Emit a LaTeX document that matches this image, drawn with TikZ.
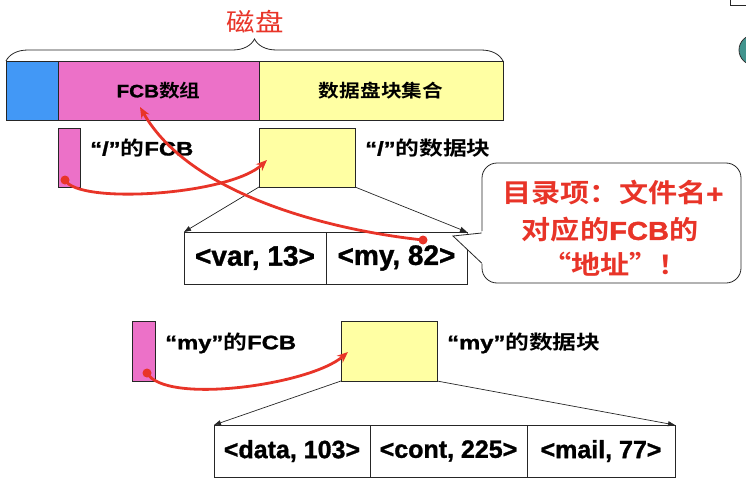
\documentclass[tikz,border=0pt]{standalone}
\usepackage{fontspec}
\setmainfont{Liberation Sans}[BoldFont={Liberation Sans Bold}, BoldFeatures={FakeBold=1.2}]
\newfontfamily\cjkfont{Noto Sans CJK SC}[BoldFont={Noto Sans CJK SC Bold}]
\usetikzlibrary{positioning,arrows.meta,decorations.pathreplacing}

\definecolor{diskblue}{RGB}{66,152,246}
\definecolor{fcbpink}{RGB}{236,113,200}
\definecolor{blkyellow}{RGB}{255,255,163}
\definecolor{ptrred}{RGB}{232,52,40}
\definecolor{logoteal}{RGB}{66,148,142}

\newcommand\zh[1]{{\cjkfont#1}}
\newcommand\wide[2]{\scalebox{#1}[1]{#2}}

\tikzset{
  box/.style={draw=black!85, line width=0.8pt, inner sep=0pt, outer sep=0pt, anchor=north west},
  cell/.style={box, minimum height=52pt},
  lbl/.style={inner sep=0pt, anchor=west, font=\fontsize{19.5}{22}\selectfont\bfseries},
  note/.style={inner sep=0pt, text=ptrred, font=\fontsize{26}{28}\selectfont\bfseries},
  ptr/.style={ptrred, line width=2.8pt, -{Stealth[length=11pt,width=9pt]}},
  spread/.style={black!85, line width=0.7pt, -{Triangle[length=7pt,width=5pt]}},
}

\begin{document}
\begin{tikzpicture}[x=1pt,y=-1pt]
\useasboundingbox (0,0) rectangle (746,484);
% disk layout
\node[box, fill=diskblue, minimum width=52pt, minimum height=59pt] (boot) at (6,61) {};
\node[box, fill=fcbpink, minimum width=201pt, minimum height=59pt, font=\fontsize{18}{20}\selectfont\bfseries] (fcbarr) at (58,61) {\wide{1.15}{FCB\zh{数组}}};
\node[box, fill=blkyellow, minimum width=244pt, minimum height=59pt, font=\fontsize{18}{20}\selectfont\bfseries] (blkset) at (259,61) {\wide{1.15}{\zh{数据盘块集合}}};
\draw[black!85, line width=0.8pt, decorate, decoration={brace, amplitude=22pt}] (boot.north west) -- (blkset.north east);
\node[text=ptrred, font=\fontsize{25}{28}\selectfont] (disk) at (255,22) {\wide{1.14}{\zh{磁盘}}};

% root directory
\node[box, fill=fcbpink, minimum width=22pt, minimum height=59pt] (rootfcb) at (58,128) {};
\node[lbl, right=10pt of rootfcb.north east, yshift=-20pt] (rootfcblbl) {\wide{1.22}{“/”\zh{的}FCB}};
\node[box, fill=blkyellow, minimum width=96pt, minimum height=59pt] (rootblk) at (259,128) {};
\node[lbl, right=10pt of rootblk.north east, yshift=-20pt] (rootblklbl) {\wide{1.22}{“/”\zh{的数据块}}};

\node[cell, minimum width=142pt, font=\fontsize{28}{30}\selectfont\bfseries] (var) at (184,232) {<var, 13>};
\node[cell, minimum width=141pt, font=\fontsize{28}{30}\selectfont\bfseries, right=0pt of var] (my) {<my, 82>};
\draw[spread] (rootblk.south west) -- (var.north west);
\draw[spread] (rootblk.south east) -- (my.north east);

% callout
\node[draw=black!85, line width=0.8pt, fill=white, rounded corners=15pt, minimum width=259pt, minimum height=120pt] (bubble) at (611.5,223) {};
\fill[white] (484,231) -- (453,236) -- (484,265) -- cycle;
\draw[black!85, line width=0.8pt] (bubble.west |- 0,233) -- (453,236) -- (bubble.west |- 0,263);
\node[note] (note1) at (613,193) {\wide{1.12}{\zh{目录项：文件名}+}};
\node[note] (note2) at (610,230) {\wide{1.12}{\zh{对应的}FCB\zh{的}}};
\node[note] (note3) at (615,264) {\wide{1.12}{\zh{“地址”！}}};

% pointers
\coordinate (rootptr) at (65,180);
\coordinate (rootdst) at (267,160);
\fill[ptrred] (rootptr) circle (4.5pt);
\draw[ptr] (rootptr) .. controls (78,205) and (230,195) .. (rootdst);
\coordinate (myptr) at (423,240);
\coordinate (myfcbdst) at (140,107);
\fill[ptrred] (myptr) circle (4.5pt);
\draw[ptr] (myptr) .. controls (330,230) and (190,195) .. (myfcbdst);

% directory my
\node[box, fill=fcbpink, minimum width=23pt, minimum height=60pt] (myfcb) at (132,321) {};
\node[lbl, right=10pt of myfcb.north east, yshift=-22pt] (myfcblbl) {\wide{1.22}{“my”\zh{的}FCB}};
\node[box, fill=blkyellow, minimum width=96pt, minimum height=60pt] (myblk) at (341,321) {};
\node[lbl, right=10pt of myblk.north east, yshift=-22pt] (myblklbl) {\wide{1.22}{“my”\zh{的数据块}}};

\node[cell, minimum width=156pt, font=\fontsize{25}{28}\selectfont\bfseries] (data) at (214,425) {<data, 103>};
\node[cell, minimum width=157pt, font=\fontsize{25}{28}\selectfont\bfseries, right=0pt of data] (cont) {<cont, 225>};
\node[cell, minimum width=148pt, font=\fontsize{25}{28}\selectfont\bfseries, right=0pt of cont] (mail) {<mail, 77>};
\draw[spread] (myblk.south west) -- (data.north west);
\draw[spread] (myblk.south east) -- (mail.north east);

\coordinate (myfcbptr) at (147,373);
\coordinate (myblkdst) at (348,352);
\fill[ptrred] (myfcbptr) circle (4.5pt);
\draw[ptr] (myfcbptr) .. controls (165,405) and (310,385) .. (myblkdst);

% slide edge
\draw[black!85, line width=0.8pt] (730,-2) -- (730,5) -- (750,5);
\draw[black!80, line width=0.8pt, fill=logoteal] (754,50) circle (15pt);
\end{tikzpicture}
\end{document}
